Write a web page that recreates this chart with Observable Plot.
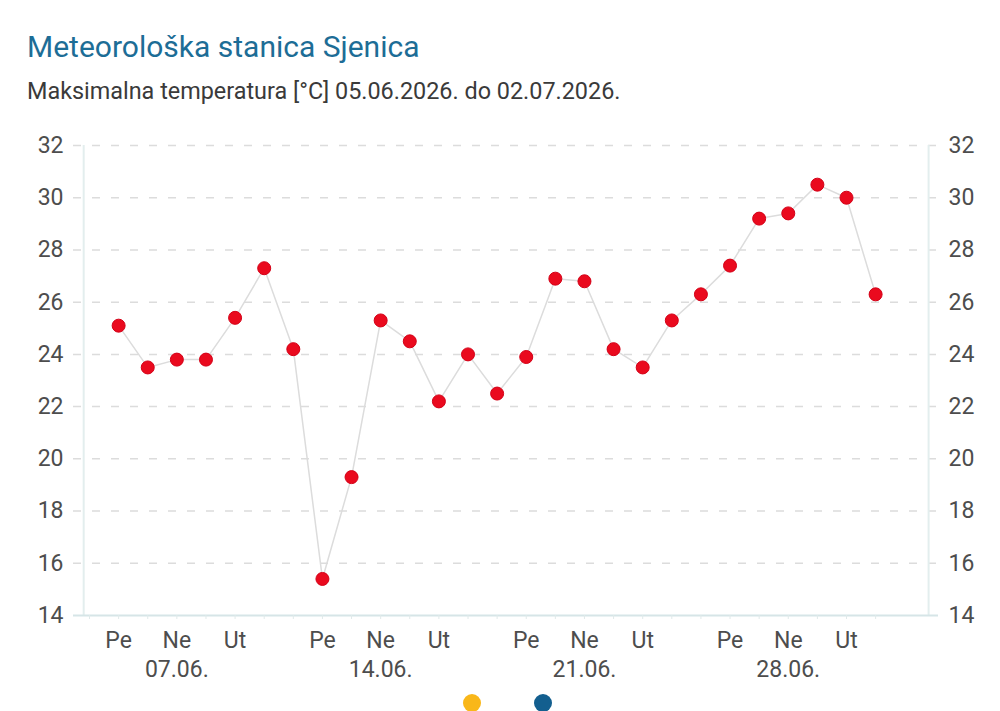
<!DOCTYPE html>
<html><head><meta charset="utf-8">
<script src="https://cdn.jsdelivr.net/npm/d3@7"></script>
<script src="https://cdn.jsdelivr.net/npm/@observablehq/plot@0.6"></script>
<style>
body{margin:0;background:#fff;font-family:Roboto,sans-serif;}
#wrap{position:relative;width:1000px;height:711px;overflow:hidden;background:#fff}
#title{position:absolute;left:27px;top:30px;font-size:30px;line-height:34px;color:#1d6d96;white-space:nowrap}
#subtitle{position:absolute;left:27px;top:78px;font-size:23.4px;line-height:26px;color:#3a3a3a;white-space:nowrap}
#chart{position:absolute;left:0;top:120px}
.leg{position:absolute;width:18px;height:18px;border-radius:50%}
</style></head>
<body><div id="wrap">
<div id="title">Meteorološka stanica Sjenica</div>
<div id="subtitle">Maksimalna temperatura [°C] 05.06.2026. do 02.07.2026.</div>
<div id="chart"></div>
<div class="leg" style="left:463px;top:694px;background:#f9b719"></div>
<div class="leg" style="left:534px;top:694px;background:#135f8f"></div>
</div>
<script>
const dates = ["05.06.","06.06.","07.06.","08.06.","09.06.","10.06.","11.06.","12.06.","13.06.","14.06.","15.06.","16.06.","17.06.","18.06.","19.06.","20.06.","21.06.","22.06.","23.06.","24.06.","25.06.","26.06.","27.06.","28.06.","29.06.","30.06.","01.07."];
const dayNames = ["Pe","Su","Ne","Po","Ut","Sr","Če","Pe","Su","Ne","Po","Ut","Sr","Če","Pe","Su","Ne","Po","Ut","Sr","Če","Pe","Su","Ne","Po","Ut","Sr"];
const tmax = [25.1,23.5,23.8,23.8,25.4,27.3,24.2,15.4,19.3,25.3,24.5,22.2,24.0,22.5,23.9,26.9,26.8,24.2,23.5,25.3,26.3,27.4,29.2,29.4,30.5,30.0,26.3];
const yTicks = [14,16,18,20,22,24,26,28,30,32];
const shownDays = ["Pe","Ne","Ut"];
const dateDay = "Ne";

const data = tmax.map((v,i)=>({i, v, date: dates[i], day: dayNames[i]}));
const dayIdx = data.filter(d=>shownDays.includes(d.day)).map(d=>d.i);
const dateIdx = data.filter(d=>d.day===dateDay).map(d=>d.i);
const allIdx = [-1, ...data.map(d=>d.i)];

const chart = Plot.plot({
  width: 1000, height: 565,
  marginTop: 25, marginBottom: 70, marginLeft: 73, marginRight: 62,
  style: {fontFamily: "Roboto, sans-serif", fontSize: "23px", color: "#4d4d4d", background: "#fff"},
  x: {domain: [-1.55, 28.16], axis: null},
  y: {domain: [14, 32], axis: null},
  marks: [
    Plot.ruleY(yTicks.slice(1), {stroke: "#dcdcdc", strokeWidth: 1.5, strokeDasharray: "8,11"}),
    Plot.ruleX([-1.2, 27.82], {y1: 14, y2: 32, stroke: "#e3eeee", strokeWidth: 2}),
    Plot.ruleY([14], {stroke: "#d6e5e7", strokeWidth: 2}),
    Plot.axisY({anchor: "left", ticks: yTicks, tickSize: 0, tickPadding: 10, label: null}),
    Plot.axisY({anchor: "right", ticks: yTicks, tickSize: 0, tickPadding: 10, label: null}),
    Plot.axisX({ticks: allIdx, tickSize: 4, tickFormat: () => "", stroke: "#e0eaea", label: null}),
    Plot.axisX({ticks: dayIdx, tickSize: 0, tickPadding: 16, tickFormat: i => dayNames[i], label: null}),
    Plot.axisX({ticks: dateIdx, tickSize: 0, tickPadding: 45, tickFormat: i => dates[i], label: null}),
    Plot.line(data, {x: "i", y: "v", stroke: "#dcdcdc", strokeWidth: 1.5}),
    Plot.dot(data, {x: "i", y: "v", r: 6.5, fill: "#ea0a1e", stroke: "#d40016", strokeWidth: 1})
  ]
});
document.getElementById("chart").appendChild(chart);
</script>
</body></html>
